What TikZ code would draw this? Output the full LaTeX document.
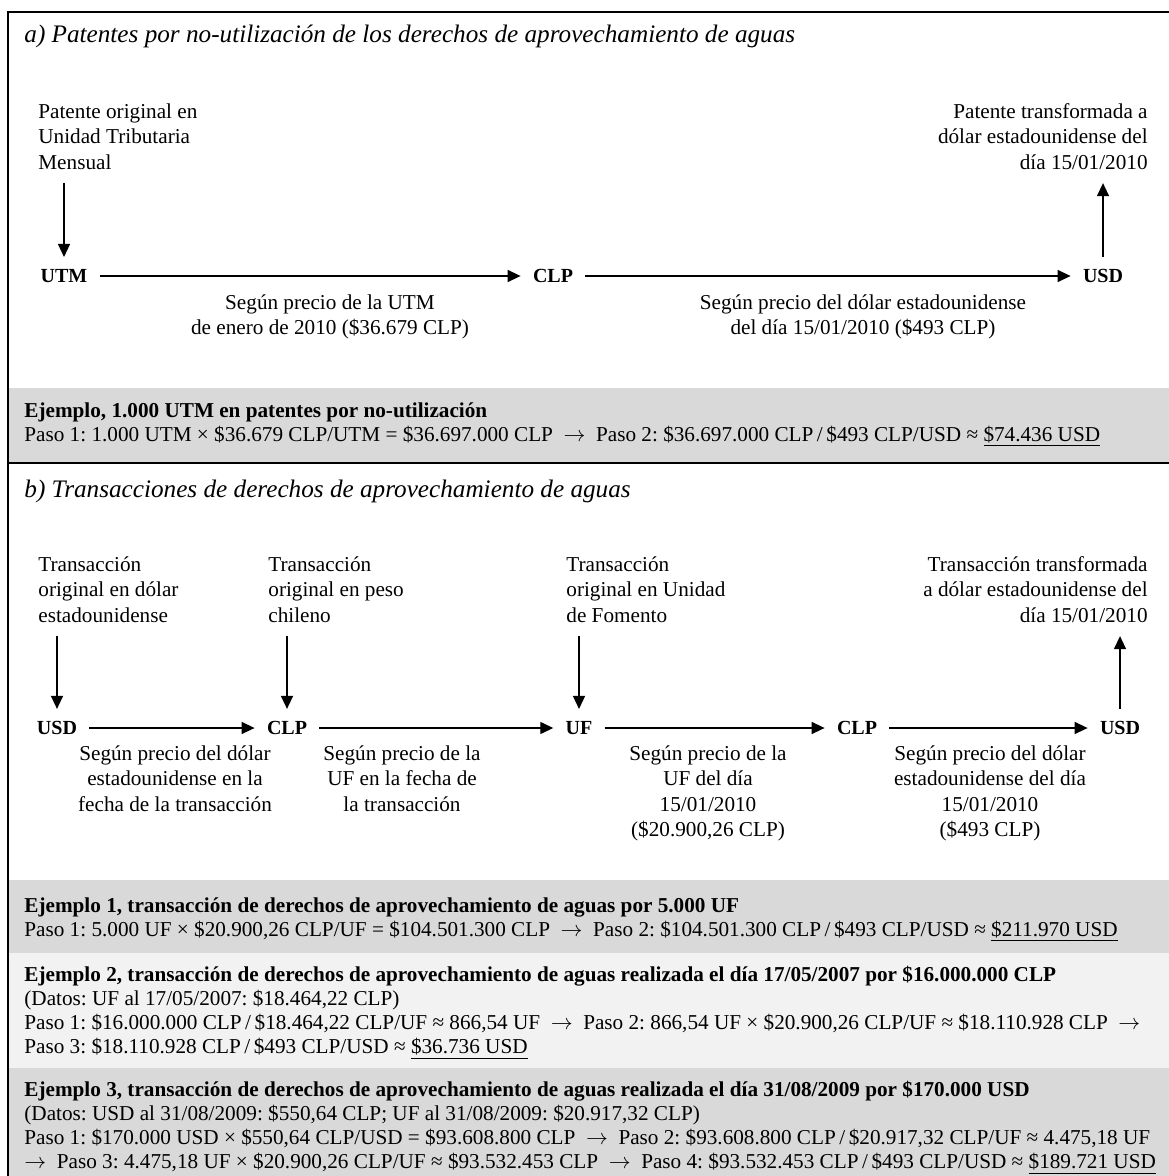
\documentclass[tikz,border=0pt]{standalone}
\usepackage{fontspec}
\setmainfont{Liberation Serif}
\usetikzlibrary{arrows.meta}
\frenchspacing
\definecolor{band-dark}{RGB}{217,217,217}
\definecolor{band-light}{RGB}{242,242,242}
\newcommand{\flecha}{~ $\rightarrow$~ }
\newcommand{\divi}{\,/\,}
\tikzset{
    cur-node/.style = {font=\bfseries, inner sep=6pt},
    note-text/.style = {inner sep=0pt, align=left},
    rate-label/.style = {inner sep=0pt, align=center, anchor=north},
    title-text/.style = {inner sep=0pt, anchor=base west, font=\itshape\fontsize{12.6}{14}\selectfont},
    band-text/.style = {inner sep=0pt, align=left, anchor=north west, font=\fontsize{10.6}{12}\selectfont},
    flow-arrow/.style = {->, line width=0.7pt},
    frame-line/.style = {line width=1.1pt},
}

\begin{document}
\begin{tikzpicture}[x=0.5pt, y=-0.5pt, font=\fontsize{10.6}{12.8}\selectfont, >={Triangle[length=6.5pt,width=6pt]}]
\useasboundingbox (0,0) rectangle (1168,1176);

\fill[band-dark] (8,388) rectangle (1180,463);
\fill[band-dark] (8,880) rectangle (1180,953);
\fill[band-light] (8,953) rectangle (1180,1068);
\fill[band-dark] (8,1068) rectangle (1180,1190);
\draw[frame-line] (8,1190) -- (8,12) -- (1180,12);
\draw[frame-line] (8,463) -- (1180,463);

\node[title-text] (title-a) at (24,43) {a) Patentes por no-utilización de los derechos de aprovechamiento de aguas};
\node[note-text, anchor=north west] (note-utm) at (38,103) {Patente original en\\Unidad Tributaria\\Mensual};
\node[note-text, align=right, anchor=north east] (note-usd-a) at (1148,103) {Patente transformada a\\dólar estadounidense del\\día 15/01/2010};
\node[cur-node] (utm) at (64,276) {UTM};
\node[cur-node] (clp-a) at (553,276) {CLP};
\node[cur-node] (usd-a) at (1103,276) {USD};
\draw[flow-arrow, shorten <=6.5pt] (utm |- note-utm.south) -- (utm);
\draw[flow-arrow] (utm) -- (clp-a);
\draw[flow-arrow] (clp-a) -- (usd-a);
\draw[flow-arrow, shorten >=6.5pt] (usd-a) -- (usd-a |- note-usd-a.south);
\node[rate-label] (rate-utm) at (330,294) {Según precio de la UTM\\de enero de 2010 (\$36.679 CLP)};
\node[rate-label] (rate-usd-a) at (863,294) {Según precio del dólar estadounidense\\del día 15/01/2010 (\$493 CLP)};
\node[band-text] (ej-a) at (24,402) {\textbf{Ejemplo, 1.000 UTM en patentes por no-utilización}\\Paso 1: 1.000 UTM × \$36.679 CLP/UTM = \$36.697.000 CLP\flecha Paso 2: \$36.697.000 CLP\divi\$493 CLP/USD ≈ \underline{\$74.436 USD}};

\node[title-text] (title-b) at (24,497) {b) Transacciones de derechos de aprovechamiento de aguas};
\node[note-text, anchor=north west] (note-usd) at (38,556) {Transacción\\original en dólar\\estadounidense};
\node[note-text, anchor=north west] (note-clp) at (268,556) {Transacción\\original en peso\\chileno};
\node[note-text, anchor=north west] (note-uf) at (566,556) {Transacción\\original en Unidad\\de Fomento};
\node[note-text, align=right, anchor=north east] (note-usd-b) at (1148,556) {Transacción transformada\\a dólar estadounidense del\\día 15/01/2010};
\node[cur-node] (usd-1) at (57,728) {USD};
\node[cur-node] (clp-1) at (287,728) {CLP};
\node[cur-node] (uf) at (579,728) {UF};
\node[cur-node] (clp-2) at (857,728) {CLP};
\node[cur-node] (usd-2) at (1120,728) {USD};
\draw[flow-arrow, shorten <=6.5pt] (usd-1 |- note-usd.south) -- (usd-1);
\draw[flow-arrow, shorten <=6.5pt] (clp-1 |- note-clp.south) -- (clp-1);
\draw[flow-arrow, shorten <=6.5pt] (uf |- note-uf.south) -- (uf);
\draw[flow-arrow] (usd-1) -- (clp-1);
\draw[flow-arrow] (clp-1) -- (uf);
\draw[flow-arrow] (uf) -- (clp-2);
\draw[flow-arrow] (clp-2) -- (usd-2);
\draw[flow-arrow, shorten >=6.5pt] (usd-2) -- (usd-2 |- note-usd-b.south);
\node[rate-label] (rate-usd-1) at (175,745) {Según precio del dólar\\estadounidense en la\\fecha de la transacción};
\node[rate-label] (rate-uf-1) at (402,745) {Según precio de la\\UF en la fecha de\\la transacción};
\node[rate-label] (rate-uf-2) at (708,745) {Según precio de la\\UF del día\\15/01/2010\\(\$20.900,26 CLP)};
\node[rate-label] (rate-usd-2) at (990,745) {Según precio del dólar\\estadounidense del día\\15/01/2010\\(\$493 CLP)};

\node[band-text] (ej-1) at (24,897) {\textbf{Ejemplo 1, transacción de derechos de aprovechamiento de aguas por 5.000 UF}\\Paso 1: 5.000 UF × \$20.900,26 CLP/UF = \$104.501.300 CLP\flecha Paso 2: \$104.501.300 CLP\divi\$493 CLP/USD ≈ \underline{\$211.970 USD}};
\node[band-text] (ej-2) at (24,966) {\textbf{Ejemplo 2, transacción de derechos de aprovechamiento de aguas realizada el día 17/05/2007 por \$16.000.000 CLP}\\(Datos: UF al 17/05/2007: \$18.464,22 CLP)\\Paso 1: \$16.000.000 CLP\divi\$18.464,22 CLP/UF ≈ 866,54 UF\flecha Paso 2: 866,54 UF × \$20.900,26 CLP/UF ≈ \$18.110.928 CLP~ $\rightarrow$\\Paso 3: \$18.110.928 CLP\divi\$493 CLP/USD ≈ \underline{\$36.736 USD}};
\node[band-text] (ej-3) at (24,1081) {\textbf{Ejemplo 3, transacción de derechos de aprovechamiento de aguas realizada el día 31/08/2009 por \$170.000 USD}\\(Datos: USD al 31/08/2009: \$550,64 CLP; UF al 31/08/2009: \$20.917,32 CLP)\\Paso 1: \$170.000 USD × \$550,64 CLP/USD = \$93.608.800 CLP\flecha Paso 2: \$93.608.800 CLP\divi\$20.917,32 CLP/UF ≈ 4.475,18 UF\\$\rightarrow$~ Paso 3: 4.475,18 UF × \$20.900,26 CLP/UF ≈ \$93.532.453 CLP\flecha Paso 4: \$93.532.453 CLP\divi\$493 CLP/USD ≈ \underline{\$189.721 USD}};
\end{tikzpicture}
\end{document}
